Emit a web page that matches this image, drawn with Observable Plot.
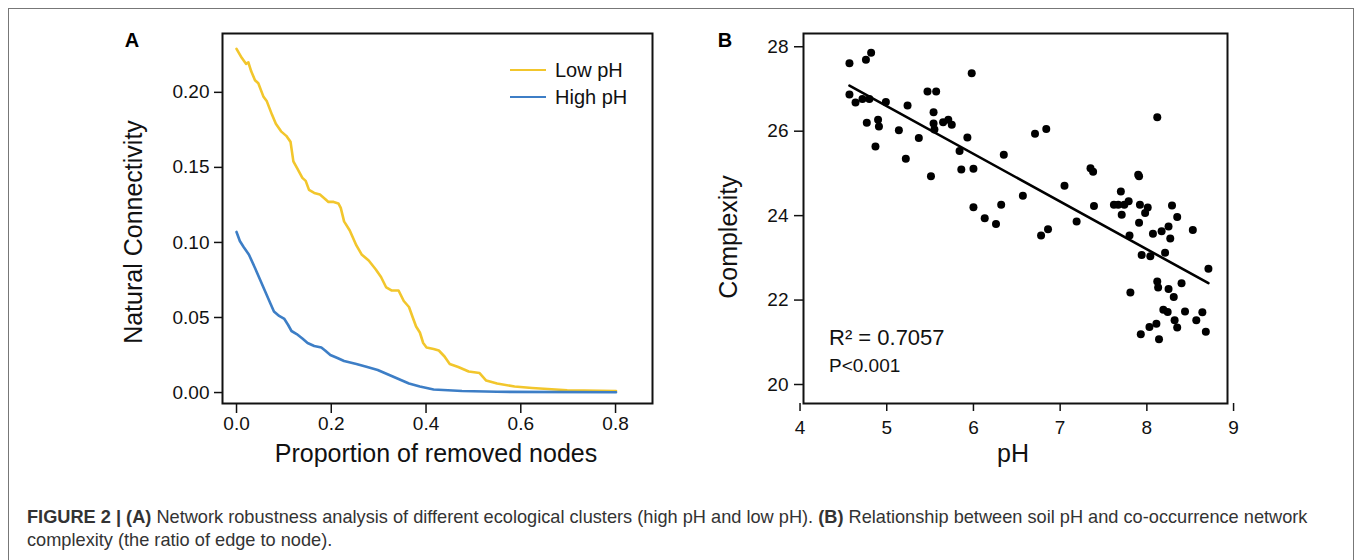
<!DOCTYPE html>
<html><head><meta charset="utf-8">
<script src="https://cdn.jsdelivr.net/npm/d3@7"></script>
<script src="https://cdn.jsdelivr.net/npm/@observablehq/plot@0.6"></script>
<style>
body{margin:0;background:#fff;font-family:"Liberation Sans",Arial,sans-serif;}
#fig{position:relative;width:1357px;height:560px;overflow:hidden;background:#fff;}
.abs{position:absolute;white-space:nowrap;line-height:1;}
.c{transform:translate(-50%,-50%);}
.rot{transform:translate(-50%,-50%) rotate(-90deg);}
#border{position:absolute;left:8px;top:8px;width:1346px;height:600px;border:1.5px solid #777;box-sizing:border-box;}
#caption{position:absolute;left:27px;top:506px;font-size:18.2px;line-height:23px;color:#333;white-space:nowrap;}
</style></head><body>
<div id="fig">
  <div id="border"></div>
  <div id="plotA" class="abs" style="left:110px;top:0px;"></div>
  <div id="plotB" class="abs" style="left:700px;top:0px;"></div>
  <div class="abs c" style="left:132px;top:40px;font-size:20px;font-weight:bold;">A</div>
  <div class="abs c" style="left:725px;top:40px;font-size:20px;font-weight:bold;">B</div>
  <div class="abs rot" style="left:133px;top:232px;font-size:25px;color:#111;">Natural Connectivity</div>
  <div class="abs c" style="left:436px;top:453px;font-size:25px;color:#111;">Proportion of removed nodes</div>
  <div class="abs rot" style="left:728px;top:237px;font-size:25px;color:#111;">Complexity</div>
  <div class="abs c" style="left:1013px;top:453px;font-size:25px;color:#111;">pH</div>
  <div id="legend"></div>
  <div class="abs" style="left:829px;top:327px;font-size:22px;color:#111;">R² = 0.7057</div>
  <div class="abs" style="left:829px;top:356px;font-size:19px;color:#111;">P&lt;0.001</div>
  <div id="caption"><b>FIGURE 2 | (A)</b> Network robustness analysis of different ecological clusters (high pH and low pH). <b>(B)</b> Relationship between soil pH and co-occurrence network<br>complexity (the ratio of edge to node).</div>
</div>
<script>
// ---------- Panel A data ----------
const seriesNames = ["Low pH", "High pH"];
const seriesColors = ["#F2C62C", "#3D7EC6"];
const lowX = [0,0.011,0.020,0.025,0.031,0.039,0.046,0.057,0.064,0.075,0.083,0.094,0.105,0.114,0.120,0.127,0.139,0.146,0.153,0.164,0.176,0.187,0.194,0.205,0.215,0.220,0.227,0.239,0.253,0.264,0.279,0.294,0.305,0.316,0.327,0.342,0.353,0.364,0.372,0.379,0.387,0.394,0.401,0.416,0.427,0.439,0.450,0.468,0.490,0.513,0.527,0.550,0.587,0.624,0.698,0.801];
const lowY = [0.229,0.223,0.219,0.220,0.214,0.208,0.206,0.197,0.194,0.185,0.179,0.174,0.171,0.167,0.154,0.150,0.143,0.141,0.135,0.133,0.132,0.129,0.127,0.127,0.126,0.123,0.114,0.108,0.098,0.092,0.088,0.082,0.077,0.070,0.068,0.068,0.061,0.057,0.050,0.044,0.040,0.033,0.030,0.029,0.028,0.024,0.019,0.017,0.014,0.013,0.008,0.006,0.004,0.003,0.0015,0.001];
const highX = [0,0.007,0.015,0.026,0.039,0.050,0.061,0.072,0.079,0.090,0.101,0.109,0.116,0.127,0.139,0.150,0.164,0.179,0.187,0.198,0.213,0.227,0.253,0.276,0.298,0.320,0.342,0.364,0.387,0.416,0.476,0.550,0.801];
const highY = [0.107,0.101,0.097,0.092,0.083,0.075,0.067,0.059,0.054,0.051,0.049,0.045,0.041,0.039,0.036,0.033,0.031,0.030,0.028,0.025,0.023,0.021,0.019,0.017,0.015,0.012,0.009,0.006,0.004,0.002,0.001,0.0005,0.0002];
const xTicksA = [0, 0.2, 0.4, 0.6, 0.8];
const yTicksA = [0, 0.05, 0.10, 0.15, 0.20];

// ---------- Panel B data ----------
const pH = [4.57,4.76,4.82,4.57,4.64,4.72,4.80,4.99,4.77,4.90,4.91,4.87,5.14,5.24,5.22,5.37,5.47,5.57,5.54,5.54,5.55,5.51,5.65,5.71,5.75,5.93,5.84,5.86,5.98,6.00,6.00,6.13,6.26,6.32,6.35,6.57,6.71,6.84,6.78,6.86,7.05,7.19,7.35,7.38,7.39,7.62,7.67,7.74,7.70,7.71,7.79,7.80,7.81,7.90,7.91,7.92,7.91,7.94,7.93,7.98,8.01,8.07,8.04,8.12,8.17,8.25,8.27,8.21,8.29,8.35,8.12,8.13,8.25,8.31,8.40,8.19,8.24,8.44,8.11,8.03,8.14,8.32,8.35,8.53,8.57,8.64,8.68,8.71];
const complexity = [27.61,27.69,27.86,26.87,26.68,26.76,26.76,26.69,26.20,26.27,26.11,25.64,26.02,26.61,25.35,25.84,26.94,26.94,26.45,26.18,26.04,24.93,26.21,26.27,26.15,25.85,25.53,25.09,27.37,25.11,24.20,23.94,23.80,24.26,25.44,24.47,25.94,26.05,23.53,23.68,24.71,23.86,25.12,25.04,24.23,24.26,24.26,24.26,24.57,24.02,24.34,23.53,22.18,24.97,24.93,24.26,23.83,23.07,21.19,24.06,24.19,23.57,23.04,26.33,23.63,23.74,23.46,23.12,24.24,23.97,22.44,22.30,22.26,22.07,22.40,21.77,21.72,21.73,21.44,21.36,21.07,21.52,21.35,23.66,21.52,21.71,21.25,22.74];
const xTicksB = [4, 5, 6, 7, 8, 9];
const yTicksB = [20, 22, 24, 26, 28];

// tables built from the arrays
const lineData = [
  ...lowX.map((x, i) => ({x, y: lowY[i], s: seriesNames[0]})),
  ...highX.map((x, i) => ({x, y: highY[i], s: seriesNames[1]}))
];
const scatter = pH.map((x, i) => ({x, y: complexity[i]}));

const baseStyle = {fontFamily: '"Liberation Sans", Arial, sans-serif', fontSize: "19px", color: "#111", background: "transparent", overflow: "visible"};

const plotA = Plot.plot({
  width: 560, height: 470,
  marginLeft: 112, marginRight: 18, marginTop: 33, marginBottom: 67,
  style: baseStyle,
  x: {domain: [-0.0296, 0.878]},
  y: {domain: [-0.0073, 0.2392]},
  color: {domain: seriesNames, range: seriesColors},
  marks: [
    Plot.line(lineData, {x: "x", y: "y", z: "s", stroke: "s", strokeWidth: 2.6, curve: "linear"}),
    Plot.frame({stroke: "#111", strokeWidth: 2}),
    Plot.axisX({ticks: xTicksA, tickFormat: d3.format(".1f"), tickSize: 10, tickPadding: 3, strokeWidth: 1.5, label: null}),
    Plot.axisY({ticks: yTicksA, tickFormat: d3.format(".2f"), tickSize: 8, tickPadding: 5, strokeWidth: 1.5, label: null})
  ]
});
document.getElementById("plotA").appendChild(plotA);

const plotB = Plot.plot({
  width: 560, height: 470,
  marginLeft: 103, marginRight: 33, marginTop: 33, marginBottom: 67,
  style: baseStyle,
  x: {domain: [4.04, 8.93]},
  y: {domain: [19.55, 28.314]},
  marks: [
    Plot.dot(scatter, {x: "x", y: "y", r: 4, fill: "#000", stroke: "none"}),
    Plot.linearRegressionY(scatter, {x: "x", y: "y", ci: 0, stroke: "#000", strokeWidth: 2.6}),
    Plot.frame({stroke: "#111", strokeWidth: 2}),
    Plot.axisX({ticks: xTicksB, tickFormat: d3.format("d"), tickSize: 8, tickPadding: 9, strokeWidth: 1.5, label: null}),
    Plot.axisY({ticks: yTicksB, tickFormat: d3.format("d"), tickSize: 9, tickPadding: 6, strokeWidth: 1.5, label: null})
  ]
});
document.getElementById("plotB").appendChild(plotB);

// legend for panel A
const legend = document.getElementById("legend");
seriesNames.forEach((name, i) => {
  const top = [70, 97][i];
  const ln = document.createElement("div");
  ln.className = "abs";
  ln.style.cssText = `left:510px;top:${top - 1}px;width:36px;height:2px;background:${seriesColors[i]};`;
  legend.appendChild(ln);
  const tx = document.createElement("div");
  tx.className = "abs";
  tx.style.cssText = `left:555px;top:${top}px;transform:translateY(-50%);font-size:20px;color:#111;`;
  tx.textContent = name;
  legend.appendChild(tx);
});
</script>
</body></html>
